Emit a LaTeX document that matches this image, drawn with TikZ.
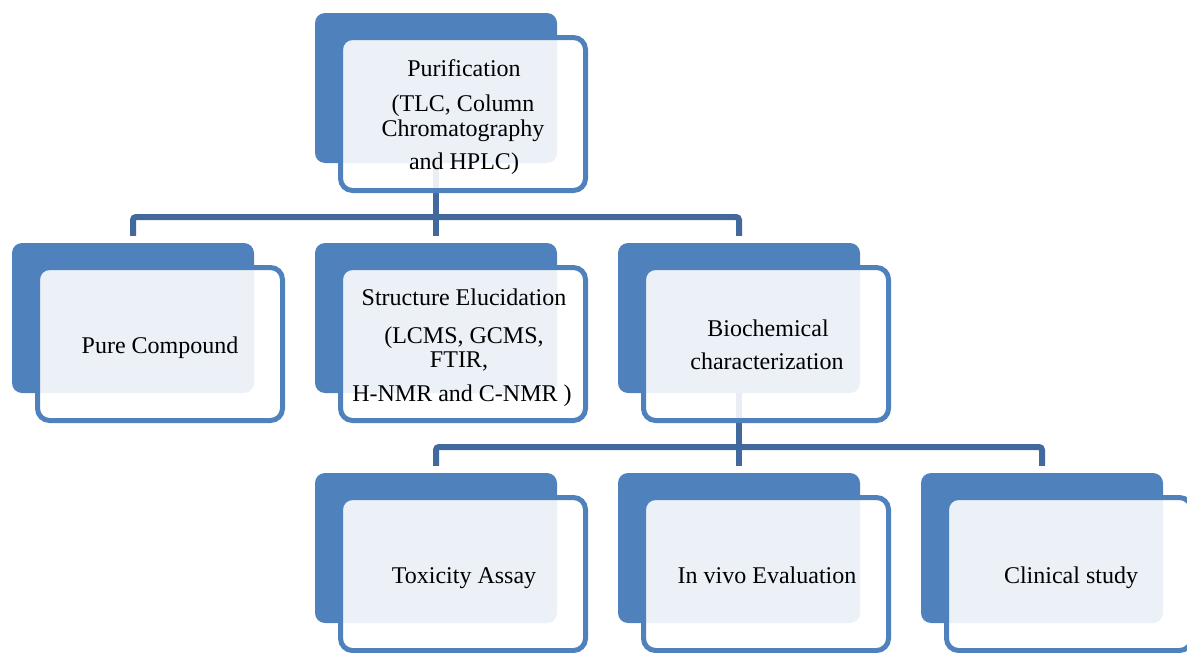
\documentclass[tikz,border=0pt]{standalone}
\usepackage{fontspec}
\setmainfont{Liberation Serif}
\pgfdeclarelayer{background}
\pgfsetlayers{background,main}
\definecolor{boxblue}{HTML}{4F81BD}
\definecolor{linkblue}{HTML}{41699E}
\begin{document}
\begin{tikzpicture}[x=1pt,y=-1pt,
  backbox/.style={fill=boxblue, draw=none, rounded corners=10pt, minimum width=242pt, minimum height=150pt, inner sep=0pt},
  frontbox/.style={draw=boxblue, line width=5pt, fill=white, fill opacity=0.89, rounded corners=12pt, minimum width=245pt, minimum height=153pt, inner sep=0pt},
  conn/.style={draw=linkblue, line width=6pt, rounded corners=3pt},
  lbl/.style={font=\fontsize{24}{29}\selectfont, anchor=base, inner sep=0pt, text=black}]
\useasboundingbox (0,0) rectangle (1187,653);
\clip (0,0) rectangle (1187,653);
% back boxes
\node[backbox] (purB) at (436,88) {};
\node[backbox] (pcB) at (133,318) {};
\node[backbox] (strB) at (436,318) {};
\node[backbox] (bioB) at (739,318) {};
\node[backbox] (toxB) at (436,548) {};
\node[backbox] (vivoB) at (739,548) {};
\node[backbox] (clinB) at (1042,548) {};
% connectors
\coordinate (bar1) at (436,217);
\coordinate (bar2) at (739,447);
\begin{pgfonlayer}{background}
\draw[conn] (purB.center) -- ([yshift=7pt]strB.north);
\draw[conn] ([yshift=7pt]pcB.north) |- (bar1) -| ([yshift=7pt]bioB.north);
\draw[conn] (bioB.center) -- ([yshift=7pt]vivoB.north);
\draw[conn] ([yshift=7pt]toxB.north) |- (bar2) -| ([yshift=7pt]clinB.north);
\end{pgfonlayer}
% front boxes
\node[frontbox] (purF) at (463,114) {};
\node[frontbox] (pcF) at (160,344) {};
\node[frontbox] (strF) at (463,344) {};
\node[frontbox] (bioF) at (766,344) {};
\node[frontbox] (toxF) at (463,574) {};
\node[frontbox] (vivoF) at (766,574) {};
\node[frontbox] (clinF) at (1069,574) {};
% labels
\node[lbl] (t1) at (464,76) {Purification};
\node[lbl] (t2) at (463,111) {(TLC, Column};
\node[lbl] (t3) at (463,136) {Chromatography};
\node[lbl] (t4) at (464,169) {and HPLC)};
\node[lbl] (t5) at (160,353) {Pure Compound};
\node[lbl] (t6) at (464,305) {Structure Elucidation};
\node[lbl] (t7) at (464,343) {(LCMS, GCMS,};
\node[lbl] (t8) at (459,367) {FTIR,};
\node[lbl] (t9) at (462,401) {H-NMR and C-NMR )};
\node[lbl] (t10) at (768,336) {Biochemical};
\node[lbl] (t11) at (767,369) {characterization};
\node[lbl] (t12) at (464,583) {Toxicity Assay};
\node[lbl] (t13) at (767,583) {In vivo Evaluation};
\node[lbl] (t14) at (1071,583) {Clinical study};
\end{tikzpicture}
\end{document}
